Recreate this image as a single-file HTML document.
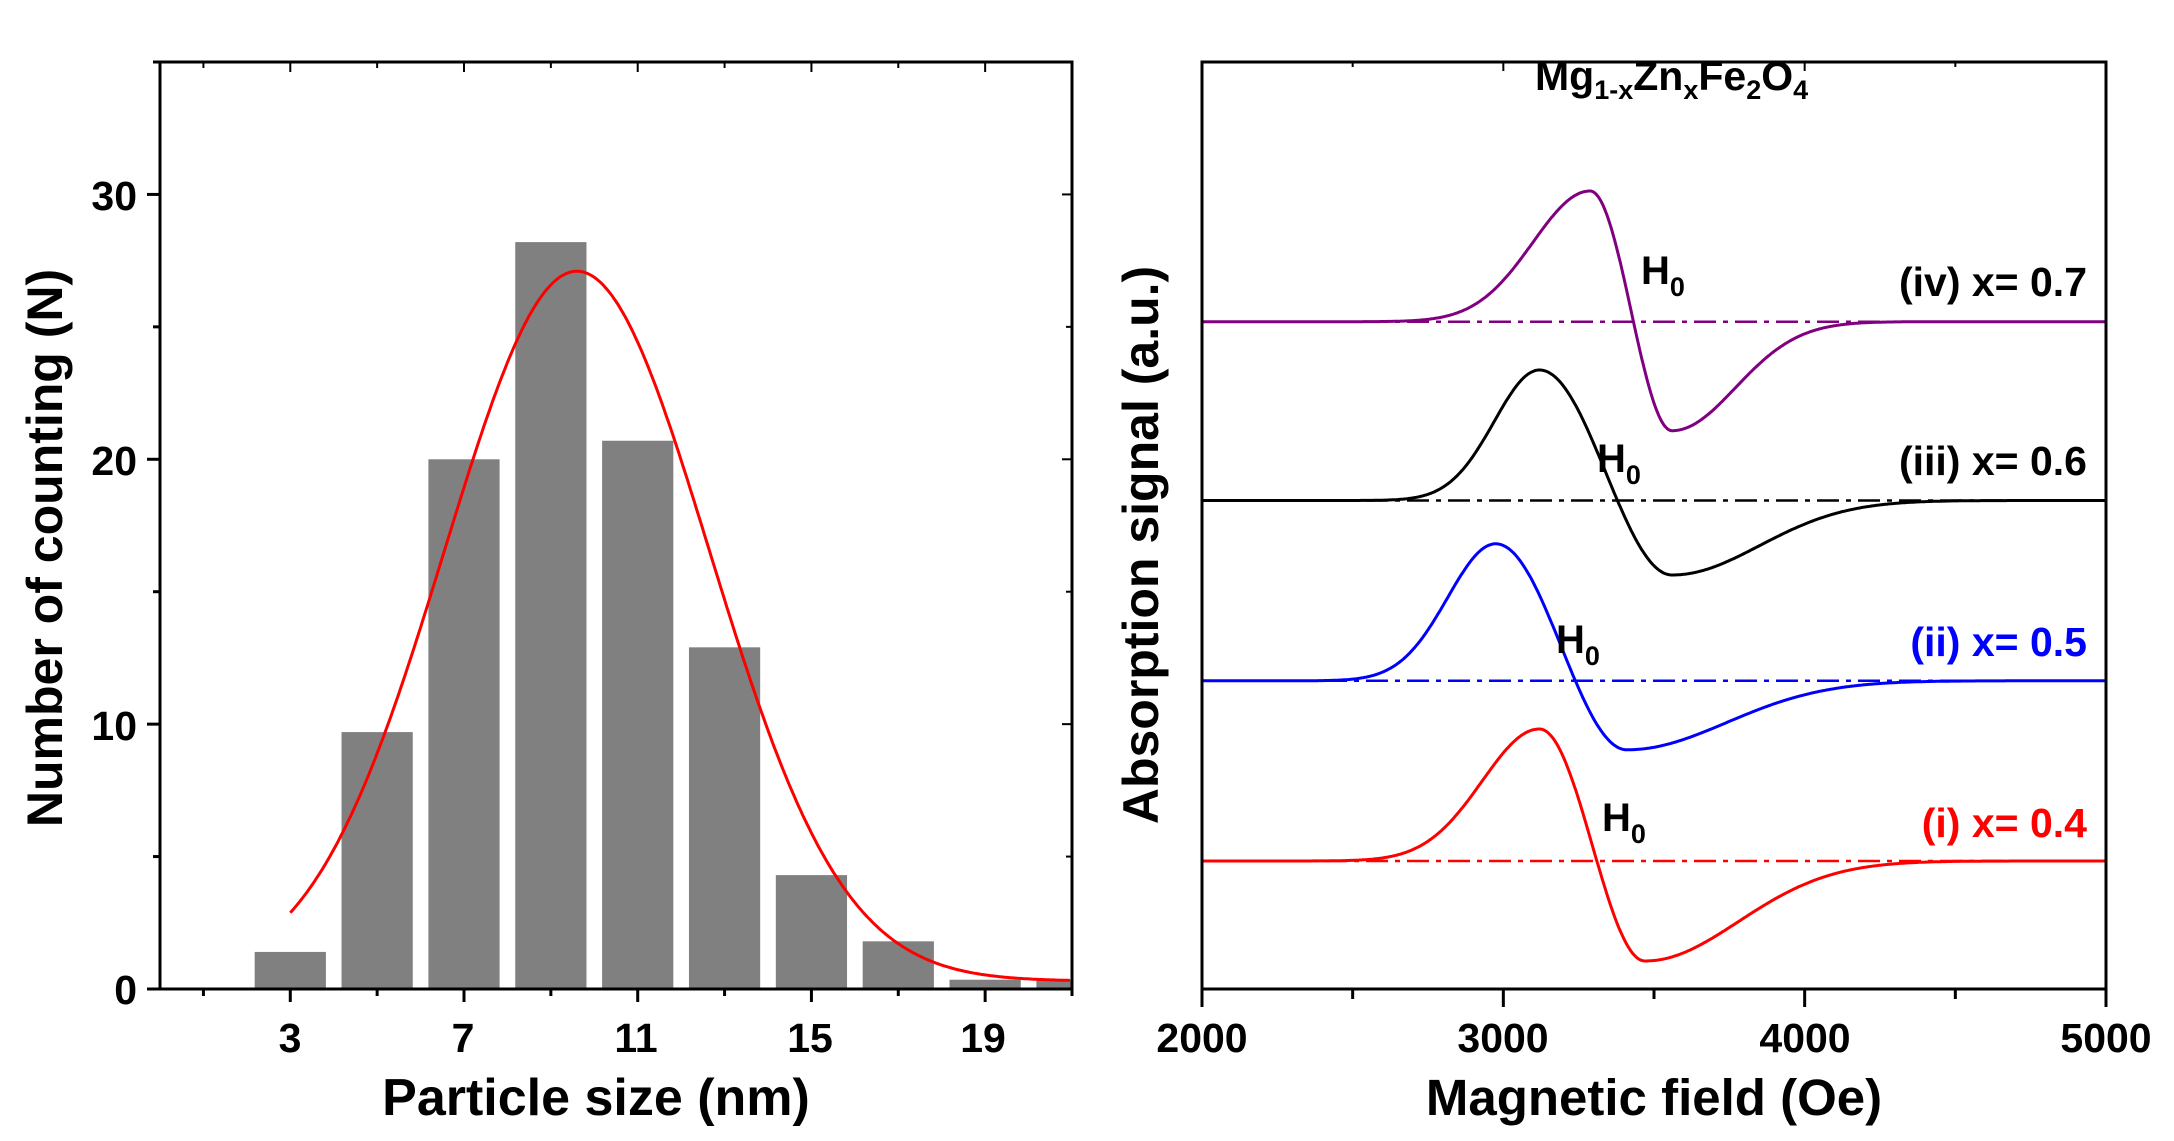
<!DOCTYPE html>
<html><head><meta charset="utf-8"><style>
html,body{margin:0;padding:0;background:#fff;}
svg{display:block;font-family:"Liberation Sans",Arial,sans-serif;font-weight:bold;}
</style></head><body>
<svg id="s" width="2174" height="1141" viewBox="0 0 2174 1141" xmlns="http://www.w3.org/2000/svg">
<g id="left"></g>
<g id="right"></g>
<g font-size="41" text-anchor="middle">
<text x="290" y="1052">3</text><text x="463" y="1052">7</text><text x="636" y="1052">11</text>
<text x="810" y="1052">15</text><text x="983" y="1052">19</text>
</g>
<g font-size="41" text-anchor="end">
<text x="137" y="1004">0</text><text x="137" y="740">10</text><text x="137" y="475">20</text><text x="137" y="210">30</text>
</g>
<text x="596" y="1115" font-size="52" text-anchor="middle">Particle size (nm)</text>
<text transform="translate(62,548) rotate(-90)" font-size="50" text-anchor="middle">Number of counting (N)</text>
<g font-size="41" text-anchor="middle">
<text x="1202" y="1052">2000</text><text x="1503" y="1052">3000</text><text x="1805" y="1052">4000</text><text x="2106" y="1052">5000</text>
</g>
<text x="1654" y="1115" font-size="51" text-anchor="middle">Magnetic field (Oe)</text>
<text transform="translate(1158,545) rotate(-90)" font-size="50" text-anchor="middle">Absorption signal (a.u.)</text>
<text x="1535" y="90" font-size="41">Mg<tspan font-size="27" dy="9">1-x</tspan><tspan dy="-9">Zn</tspan><tspan font-size="27" dy="9">x</tspan><tspan dy="-9">Fe</tspan><tspan font-size="27" dy="9">2</tspan><tspan dy="-9">O</tspan><tspan font-size="27" dy="9">4</tspan></text>
<g font-size="41" text-anchor="end">
<text x="2087" y="296" fill="#000">(iv) x= 0.7</text>
<text x="2087" y="475" fill="#000">(iii) x= 0.6</text>
<text x="2087" y="656" fill="#0000ff">(ii) x= 0.5</text>
<text x="2087" y="837" fill="#ff0000">(i) x= 0.4</text>
</g>
<g font-size="40">
<text x="1641" y="284">H<tspan font-size="27" dy="12">0</tspan></text>
<text x="1597" y="472">H<tspan font-size="27" dy="12">0</tspan></text>
<text x="1556" y="653">H<tspan font-size="27" dy="12">0</tspan></text>
<text x="1602" y="831">H<tspan font-size="27" dy="12">0</tspan></text>
</g>
</svg>
<script>
const NS="http://www.w3.org/2000/svg";
function el(p,t,a){const e=document.createElementNS(NS,t);for(const k in a)e.setAttribute(k,a[k]);p.appendChild(e);return e;}
const L=document.getElementById('left');
const X0=160,X1=1072,Y0=989,Y1=62;
const px=v=>X0+v*(X1-X0)/21, py=v=>Y0-v*(Y0-Y1)/35;
const bars=[[3,1.4],[5,9.7],[7,20],[9,28.2],[11,20.7],[13,12.9],[15,4.3],[17,1.8],[19,0.35],[21,0.35]];
bars.forEach(([x,h])=>{let a=px(x-0.82),b=px(x+0.82);b=Math.min(b,X1);el(L,'rect',{x:a,y:py(h),width:b-a,height:Y0-py(h),fill:'#808080'});});
let d='';for(let x=3;x<=21;x+=0.05){const y=0.3+26.8*Math.exp(-Math.pow(x-9.6,2)/(2*3.05*3.05));d+=(d?'L':'M')+px(x).toFixed(1)+','+py(y).toFixed(1);}
el(L,'path',{d:d,fill:'none',stroke:'#ff0000','stroke-width':3});
el(L,'rect',{x:X0,y:Y1,width:X1-X0,height:Y0-Y1,fill:'none',stroke:'#000','stroke-width':3});
for(let v=0;v<=35;v+=5){const maj=v%10==0;el(L,'line',{x1:X0,x2:X0-(maj?13:7),y1:py(v),y2:py(v),stroke:'#000','stroke-width':3});el(L,'line',{x1:X1,x2:X1-(maj?10:6),y1:py(v),y2:py(v),stroke:'#000','stroke-width':2});}
for(let v=1;v<=21;v+=2){const maj=(v-3)%4==0;el(L,'line',{x1:px(v),x2:px(v),y1:Y0,y2:Y0+(maj?13:7),stroke:'#000','stroke-width':3});el(L,'line',{x1:px(v),x2:px(v),y1:Y1,y2:Y1+(maj?10:6),stroke:'#000','stroke-width':2});}
const R=document.getElementById('right');
const RX0=1202,RX1=2106;
const hx=H=>RX0+(H-2000)*(RX1-RX0)/3000;
const curves=[
 {c:'#800080',base:321.7,Hp:3288,Ht:3560,A:130.7,B:109,sP:190,sT:210},
 {c:'#000000',base:500.5,Hp:3120,Ht:3560,A:130.5,B:74.5,sP:150,sT:290},
 {c:'#0000ff',base:680.8,Hp:2975,Ht:3410,A:137,B:69,sP:160,sT:330},
 {c:'#ff0000',base:861,Hp:3120,Ht:3470,A:132,B:100,sP:190,sT:310}];
curves.forEach(k=>{
 el(R,'line',{x1:RX0,x2:RX1,y1:k.base,y2:k.base,stroke:k.c,'stroke-width':2.5,'stroke-dasharray':'22,7,5,7'});
 let d='';
 for(let H=2000;H<=5000;H+=4){let v;
  if(H<k.Hp)v=k.A*Math.exp(-Math.pow(H-k.Hp,2)/(2*k.sP*k.sP));
  else if(H<k.Ht){const t=(H-k.Hp)/(k.Ht-k.Hp);v=(k.A-k.B)/2+(k.A+k.B)/2*Math.cos(Math.PI*t);}
  else v=-k.B*Math.exp(-Math.pow(H-k.Ht,2)/(2*k.sT*k.sT));
  d+=(d?'L':'M')+hx(H).toFixed(1)+','+(k.base-v).toFixed(1);}
 el(R,'path',{d:d,fill:'none',stroke:k.c,'stroke-width':3});
});
el(R,'rect',{x:RX0,y:Y1,width:RX1-RX0,height:Y0-Y1,fill:'none',stroke:'#000','stroke-width':3});
for(let H=2000;H<=5000;H+=500){const maj=H%1000==0;el(R,'line',{x1:hx(H),x2:hx(H),y1:Y0,y2:Y0+(maj?18:10),stroke:'#000','stroke-width':3});el(R,'line',{x1:hx(H),x2:hx(H),y1:Y1,y2:Y1+(maj?9:5),stroke:'#000','stroke-width':2});}
</script>
</body></html>
